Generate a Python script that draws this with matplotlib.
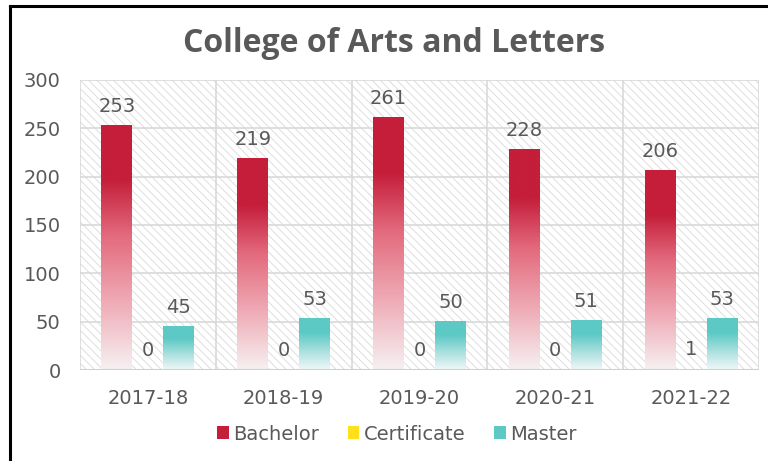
import numpy as np
import matplotlib
matplotlib.use("Agg")
import matplotlib.pyplot as plt
from matplotlib.colors import LinearSegmentedColormap
from matplotlib.patches import Patch
from matplotlib.lines import Line2D

categories = ["2017-18", "2018-19", "2019-20", "2020-21", "2021-22"]
bachelor = [253, 219, 261, 228, 206]
certificate = [0, 0, 0, 0, 1]
master = [45, 53, 50, 51, 53]
series_names = ["Bachelor", "Certificate", "Master"]
yticks = [0, 50, 100, 150, 200, 250, 300]

TEXT = "#595959"
GRID = "#d9d9d9"
FS = 14
plt.rcParams['font.family'] = ['DejaVu Sans']
plt.rcParams['hatch.color'] = '#d9d9d9'
plt.rcParams['hatch.linewidth'] = 0.6

fig = plt.figure(figsize=(7.68, 4.61), dpi=100)
ax = fig.add_axes([80/768, 1-370/461, (759-80)/768, (370-80)/461])

ax.patch.set_facecolor('white')
ax.patch.set_hatch('\\\\\\\\')
ax.patch.set_edgecolor('#d9d9d9')

x = np.arange(len(categories))
w = 0.228

red_cmap = LinearSegmentedColormap.from_list("red", [
    (0.0, "#C41E3A"), (0.22, "#C41E3A"), (0.45, "#E36A7D"),
    (0.72, "#EFAAB5"), (1.0, "#F6F1F2")])
teal_cmap = LinearSegmentedColormap.from_list("teal", [
    (0.0, "#5CC9C5"), (0.28, "#5CC9C5"), (0.65, "#ACE1DF"),
    (1.0, "#F1F8F8")])

def grad_bars(xs, vals, cmap):
    bars = ax.bar(xs, vals, w, color='none', edgecolor='none', zorder=3)
    grad = np.linspace(0, 1, 256).reshape(-1, 1)
    for b in bars:
        x0 = b.get_x(); h = b.get_height()
        if h <= 0:
            continue
        ax.imshow(grad, cmap=cmap, aspect='auto', origin='upper',
                  extent=(x0, x0 + b.get_width(), 0, h), zorder=3,
                  interpolation='bilinear')
    return bars

b1 = grad_bars(x - w, bachelor, red_cmap)
b2 = ax.bar(x, certificate, w, color="#FFE01B", zorder=3)
b3 = grad_bars(x + w, master, teal_cmap)

for bars in (b1, b2, b3):
    ax.bar_label(bars, padding=7, fontsize=FS, color=TEXT)

ax.set_xlim(-0.5, len(categories) - 0.5)
ax.set_ylim(0, 300)
ax.set_yticks(yticks)
ax.set_xticks(x)
ax.set_xticklabels(categories)
ax.xaxis.set_tick_params(length=0, labelsize=FS, labelcolor=TEXT, pad=14)
ax.yaxis.set_tick_params(length=0, labelsize=FS, labelcolor=TEXT, pad=14)

for yv in yticks:
    ax.axhline(yv, color=GRID, lw=1.2, zorder=1)
for xv in np.arange(-0.5, len(categories), 1.0):
    ax.axvline(xv, color=GRID, lw=1.2, zorder=1)
for s in ax.spines.values():
    s.set_visible(False)
ax.axhline(0, color="#d0d0d0", lw=1.5, zorder=4)

fig.text(394/768, 1-43/461, "College of Arts and Letters", ha='center',
         va='center', fontsize=23, fontweight='bold', color=TEXT,
         family=['Open Sans', 'DejaVu Sans'])

handles = [Patch(facecolor="#C41E3A"), Patch(facecolor="#FFE01B"),
           Patch(facecolor="#5CC9C5")]
fig.legend(handles, series_names, loc='center', bbox_to_anchor=(397/768, 1-434/461),
           ncol=3, frameon=False, fontsize=FS, labelcolor=TEXT,
           handlelength=0.6, handleheight=0.6, handletextpad=0.25, columnspacing=1.45)

fig.add_artist(Line2D([9.5/768, 9.5/768], [0, 1-6/461], color='black', lw=2.2,
                      transform=fig.transFigure))
fig.add_artist(Line2D([9.5/768, 1], [1-6.5/461, 1-6.5/461], color='black', lw=2.2,
                      transform=fig.transFigure))

fig.savefig("out.png", dpi=100)
